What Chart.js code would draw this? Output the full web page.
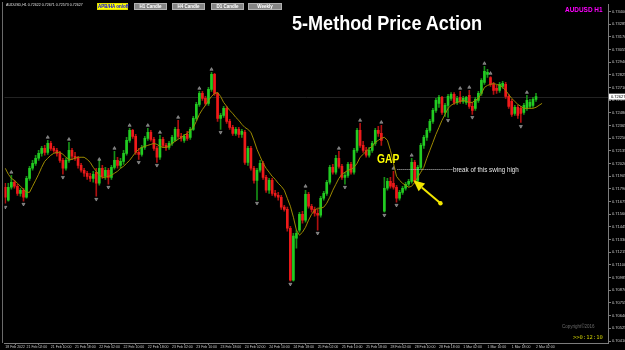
<!DOCTYPE html>
<html lang="en">
<head>
<meta charset="UTF-8">
<title>5-Method Price Action</title>
<script src="https://cdn.jsdelivr.net/npm/chart.js"></script>
<style>
  body { margin: 0; padding: 0; background: #000; font-family: 'Liberation Sans', Arial, sans-serif; }
  .wrap { position: relative; width: 625px; height: 350px; overflow: hidden; background: #000; }
  canvas { position: absolute; left: 0; top: 0; }
  .lbl { position: absolute; white-space: nowrap; line-height: 1; transform-origin: left top; }
  .btn { position: absolute; top: 3px; height: 7px; box-sizing: border-box; background: #858585; border: 1px solid #b0b0b0;
         color: #fff; font-weight: bold; font-size: 4.5px; line-height: 5px; text-align: center; white-space: nowrap; }
  .btn.on { background: #ffff00; border-color: #e0e000; color: #0000ee; }
  .title { left: 292px; top: 12px; font-size: 21px; font-weight: bold; color: #fff; transform: scaleX(0.86); }
  .sym { left: 565px; top: 6px; font-size: 7px; font-weight: bold; color: #ff00ff; transform: scaleX(0.92); }
  .info { left: 6px; top: 4px; font-size: 3.6px; color: #e0e0e0; }
  .gap { left: 377px; top: 153px; font-size: 12.5px; font-weight: bold; color: #ffff00; transform: scaleX(0.82); }
  .note { left: 453px; top: 165.5px; font-size: 7px; color: #e6e6e6; transform: scaleX(0.9); }
  .copy { left: 562px; top: 325px; font-size: 4.5px; color: #6a6a6a; }
  .timer { left: 573px; top: 335px; font-size: 5.5px; color: #c8c800; font-family: 'DejaVu Sans Mono', monospace; }
</style>
</head>
<body>
<div class="wrap">
  <canvas id="priceChart" width="625" height="350"></canvas>
  <div class="lbl info">AUDUSD,H1 0.72622 0.72671 0.72573 0.72627</div>
  <div class="btn on" style="left:97px;width:31px;">APB/HA on/off</div>
  <div class="btn" style="left:134px;width:33px;">H1 Candle</div>
  <div class="btn" style="left:172px;width:33px;">H4 Candle</div>
  <div class="btn" style="left:211px;width:33px;">D1 Candle</div>
  <div class="btn" style="left:248px;width:34px;">Weekly</div>
  <div class="lbl title">5-Method Price Action</div>
  <div class="lbl sym">AUDUSD H1</div>
  <div class="lbl gap">GAP</div>
  <div class="lbl note">break of this swing high</div>
  <div class="lbl copy">Copyright©2016</div>
  <div class="lbl timer">&gt;&gt;0:12:10</div>
</div>

<script>
// AUDUSD H1 candles, 18 Feb 2022 19:00 .. 2 Mar 2022 02:00
const opens = [
  0.71805, 0.71687, 0.71805, 0.71850, 0.71814, 0.71750, 0.71778, 0.71714, 0.71886, 0.71977,
  0.72022, 0.72068, 0.72113, 0.72158, 0.72122, 0.72203, 0.72158, 0.72140, 0.72113, 0.72049,
  0.71977, 0.72049, 0.72140, 0.72086, 0.72068, 0.72004, 0.71959, 0.71932, 0.71904, 0.71886,
  0.71941, 0.71841, 0.71977, 0.71904, 0.71959, 0.71895, 0.71986, 0.72049, 0.72004, 0.72040,
  0.72113, 0.72231, 0.72321, 0.72267, 0.72122, 0.72104, 0.72167, 0.72249, 0.72303, 0.72240,
  0.72158, 0.72077, 0.72240, 0.72185, 0.72167, 0.72203, 0.72231, 0.72330, 0.72267, 0.72231,
  0.72285, 0.72258, 0.72330, 0.72430, 0.72557, 0.72656, 0.72611, 0.72566, 0.72693, 0.72829,
  0.72656, 0.72430, 0.72457, 0.72521, 0.72403, 0.72348, 0.72294, 0.72330, 0.72285, 0.72303,
  0.72031, 0.72158, 0.71977, 0.71868, 0.71959, 0.72022, 0.71895, 0.71778, 0.71868, 0.71750,
  0.71732, 0.71714, 0.71624, 0.71605, 0.71433, 0.70962, 0.71343, 0.71415, 0.71560, 0.71506,
  0.71741, 0.71633, 0.71605, 0.71569, 0.71551, 0.71705, 0.71750, 0.71850, 0.71986, 0.71941,
  0.72068, 0.71995, 0.71895, 0.71913, 0.72013, 0.71941, 0.72140, 0.72321, 0.72185, 0.72140,
  0.72095, 0.72140, 0.72203, 0.72321, 0.72294, 0.71587, 0.71796, 0.71859, 0.71841, 0.71805,
  0.71705, 0.71759, 0.71796, 0.71832, 0.71859, 0.72031, 0.71868, 0.71986, 0.72185, 0.72258,
  0.72321, 0.72403, 0.72502, 0.72566, 0.72620, 0.72484, 0.72548, 0.72611, 0.72647, 0.72575,
  0.72620, 0.72584, 0.72575, 0.72638, 0.72539, 0.72521, 0.72593, 0.72656, 0.72756, 0.72829,
  0.72801, 0.72738, 0.72702, 0.72684, 0.72720, 0.72738, 0.72629, 0.72584, 0.72475, 0.72530,
  0.72521, 0.72484, 0.72521, 0.72539, 0.72548, 0.72602
];
const highs = [
  0.71841, 0.71841, 0.71913, 0.71868, 0.71832, 0.71796, 0.71796, 0.71904, 0.71995, 0.72049,
  0.72095, 0.72140, 0.72176, 0.72185, 0.72231, 0.72222, 0.72176, 0.72158, 0.72131, 0.72068,
  0.72068, 0.72212, 0.72158, 0.72122, 0.72086, 0.72022, 0.71977, 0.71950, 0.71932, 0.71950,
  0.71977, 0.72049, 0.72004, 0.71986, 0.71977, 0.72004, 0.72131, 0.72077, 0.72068, 0.72140,
  0.72258, 0.72339, 0.72330, 0.72285, 0.72158, 0.72185, 0.72267, 0.72339, 0.72321, 0.72258,
  0.72176, 0.72276, 0.72258, 0.72203, 0.72222, 0.72276, 0.72348, 0.72412, 0.72294, 0.72285,
  0.72312, 0.72348, 0.72448, 0.72575, 0.72675, 0.72675, 0.72629, 0.72711, 0.72847, 0.72838,
  0.72665, 0.72475, 0.72539, 0.72539, 0.72421, 0.72366, 0.72348, 0.72348, 0.72330, 0.72321,
  0.72176, 0.72176, 0.71995, 0.71977, 0.72049, 0.72040, 0.71913, 0.71886, 0.71886, 0.71778,
  0.71759, 0.71732, 0.71642, 0.71624, 0.71451, 0.71388, 0.71415, 0.71578, 0.71587, 0.71778,
  0.71759, 0.71651, 0.71624, 0.71605, 0.71723, 0.71769, 0.71868, 0.72004, 0.72013, 0.72095,
  0.72131, 0.72013, 0.71941, 0.72031, 0.72031, 0.72158, 0.72339, 0.72385, 0.72222, 0.72167,
  0.72167, 0.72222, 0.72339, 0.72357, 0.72366, 0.71895, 0.71886, 0.71895, 0.71950, 0.71823,
  0.71778, 0.71814, 0.71850, 0.71877, 0.72068, 0.72049, 0.72004, 0.72203, 0.72276, 0.72339,
  0.72421, 0.72521, 0.72611, 0.72638, 0.72629, 0.72566, 0.72647, 0.72665, 0.72665, 0.72629,
  0.72675, 0.72629, 0.72629, 0.72684, 0.72575, 0.72620, 0.72675, 0.72792, 0.72901, 0.72874,
  0.72810, 0.72756, 0.72729, 0.72756, 0.72765, 0.72756, 0.72647, 0.72602, 0.72548, 0.72548,
  0.72539, 0.72566, 0.72638, 0.72602, 0.72620, 0.72656
];
const lows = [
  0.71660, 0.71678, 0.71787, 0.71796, 0.71732, 0.71723, 0.71678, 0.71705, 0.71868, 0.71959,
  0.72004, 0.72049, 0.72086, 0.72095, 0.72104, 0.72140, 0.72122, 0.72086, 0.72031, 0.71923,
  0.71959, 0.72031, 0.72058, 0.72049, 0.71977, 0.71941, 0.71904, 0.71877, 0.71859, 0.71850,
  0.71723, 0.71823, 0.71886, 0.71877, 0.71832, 0.71877, 0.71968, 0.71977, 0.71977, 0.72013,
  0.72095, 0.72212, 0.72249, 0.72104, 0.72058, 0.72086, 0.72149, 0.72231, 0.72222, 0.72140,
  0.72031, 0.72058, 0.72167, 0.72140, 0.72149, 0.72185, 0.72222, 0.72249, 0.72222, 0.72212,
  0.72231, 0.72240, 0.72321, 0.72412, 0.72539, 0.72593, 0.72548, 0.72548, 0.72675, 0.72638,
  0.72403, 0.72330, 0.72439, 0.72385, 0.72330, 0.72276, 0.72276, 0.72258, 0.72258, 0.72013,
  0.72004, 0.71959, 0.71841, 0.71687, 0.71941, 0.71877, 0.71759, 0.71750, 0.71732, 0.71714,
  0.71687, 0.71605, 0.71587, 0.71406, 0.70953, 0.70953, 0.71252, 0.71397, 0.71479, 0.71488,
  0.71615, 0.71578, 0.71542, 0.71415, 0.71533, 0.71687, 0.71732, 0.71832, 0.71923, 0.71923,
  0.71977, 0.71877, 0.71832, 0.71895, 0.71923, 0.71923, 0.72122, 0.72167, 0.72122, 0.72077,
  0.72077, 0.72122, 0.72185, 0.72267, 0.72185, 0.71578, 0.71778, 0.71796, 0.71787, 0.71669,
  0.71687, 0.71741, 0.71778, 0.71814, 0.71841, 0.71841, 0.71850, 0.71968, 0.72158, 0.72231,
  0.72303, 0.72385, 0.72484, 0.72530, 0.72466, 0.72448, 0.72439, 0.72593, 0.72557, 0.72557,
  0.72566, 0.72566, 0.72557, 0.72521, 0.72466, 0.72502, 0.72575, 0.72638, 0.72738, 0.72801,
  0.72720, 0.72647, 0.72656, 0.72665, 0.72702, 0.72611, 0.72521, 0.72448, 0.72457, 0.72430,
  0.72394, 0.72466, 0.72502, 0.72521, 0.72530, 0.72584
];
const closes = [
  0.71714, 0.71805, 0.71850, 0.71814, 0.71750, 0.71778, 0.71714, 0.71886, 0.71977, 0.72022,
  0.72068, 0.72113, 0.72158, 0.72122, 0.72203, 0.72158, 0.72140, 0.72113, 0.72049, 0.71977,
  0.72049, 0.72140, 0.72086, 0.72068, 0.72004, 0.71959, 0.71932, 0.71904, 0.71886, 0.71923,
  0.71841, 0.71977, 0.71904, 0.71959, 0.71895, 0.71986, 0.72049, 0.72004, 0.72040, 0.72113,
  0.72231, 0.72321, 0.72267, 0.72122, 0.72104, 0.72167, 0.72249, 0.72303, 0.72240, 0.72158,
  0.72077, 0.72240, 0.72185, 0.72167, 0.72203, 0.72258, 0.72330, 0.72267, 0.72249, 0.72267,
  0.72249, 0.72330, 0.72430, 0.72557, 0.72656, 0.72611, 0.72566, 0.72693, 0.72829, 0.72656,
  0.72430, 0.72457, 0.72521, 0.72403, 0.72348, 0.72294, 0.72330, 0.72285, 0.72312, 0.72031,
  0.72158, 0.71977, 0.71868, 0.71959, 0.72022, 0.71895, 0.71778, 0.71868, 0.71750, 0.71732,
  0.71714, 0.71624, 0.71605, 0.71433, 0.70962, 0.71361, 0.71388, 0.71560, 0.71506, 0.71741,
  0.71633, 0.71605, 0.71569, 0.71551, 0.71705, 0.71750, 0.71850, 0.71986, 0.71941, 0.72068,
  0.71995, 0.71895, 0.71913, 0.72013, 0.71941, 0.72140, 0.72321, 0.72185, 0.72140, 0.72095,
  0.72140, 0.72203, 0.72321, 0.72294, 0.72231, 0.71796, 0.71859, 0.71814, 0.71805, 0.71705,
  0.71759, 0.71796, 0.71832, 0.71859, 0.72031, 0.71859, 0.71986, 0.72185, 0.72258, 0.72321,
  0.72403, 0.72502, 0.72593, 0.72620, 0.72484, 0.72548, 0.72629, 0.72647, 0.72575, 0.72611,
  0.72584, 0.72611, 0.72620, 0.72539, 0.72502, 0.72602, 0.72656, 0.72774, 0.72856, 0.72847,
  0.72738, 0.72684, 0.72684, 0.72738, 0.72747, 0.72629, 0.72539, 0.72466, 0.72530, 0.72457,
  0.72475, 0.72548, 0.72593, 0.72575, 0.72602, 0.72627
];

// moving average as drawn (runs 2 bars past the last candle)
const maLine = [
  0.71977, 0.71923, 0.71886, 0.71868, 0.71841, 0.71814, 0.71787, 0.71759, 0.71759, 0.71814,
  0.71868, 0.71923, 0.71986, 0.72040, 0.72068, 0.72095, 0.72113, 0.72122, 0.72122, 0.72104,
  0.72077, 0.72058, 0.72058, 0.72068, 0.72077, 0.72077, 0.72077, 0.72058, 0.72031, 0.71986,
  0.71950, 0.71913, 0.71895, 0.71895, 0.71904, 0.71913, 0.71932, 0.71950, 0.71977, 0.71995,
  0.72022, 0.72049, 0.72086, 0.72122, 0.72149, 0.72167, 0.72176, 0.72185, 0.72194, 0.72203,
  0.72194, 0.72176, 0.72167, 0.72167, 0.72176, 0.72203, 0.72222, 0.72240, 0.72258, 0.72276,
  0.72294, 0.72321, 0.72348, 0.72403, 0.72466, 0.72511, 0.72548, 0.72593, 0.72629, 0.72656,
  0.72665, 0.72629, 0.72575, 0.72539, 0.72502, 0.72475, 0.72439, 0.72412, 0.72376, 0.72348,
  0.72330, 0.72303, 0.72231, 0.72149, 0.72086, 0.72022, 0.71977, 0.71941, 0.71904, 0.71877,
  0.71841, 0.71814, 0.71778, 0.71705, 0.71633, 0.71533, 0.71415, 0.71370, 0.71397, 0.71442,
  0.71506, 0.71560, 0.71596, 0.71615, 0.71615, 0.71624, 0.71660, 0.71714, 0.71778, 0.71832,
  0.71886, 0.71923, 0.71941, 0.71959, 0.71968, 0.71986, 0.72022, 0.72077, 0.72104, 0.72131,
  0.72158, 0.72176, 0.72212, 0.72231, 0.72249, 0.72258, 0.72231, 0.72140, 0.72022, 0.71904,
  0.71868, 0.71841, 0.71823, 0.71805, 0.71814, 0.71850, 0.71895, 0.71941, 0.71986, 0.72068,
  0.72140, 0.72212, 0.72285, 0.72348, 0.72412, 0.72466, 0.72521, 0.72548, 0.72566, 0.72575,
  0.72584, 0.72593, 0.72584, 0.72575, 0.72575, 0.72593, 0.72611, 0.72656, 0.72711, 0.72729,
  0.72738, 0.72747, 0.72738, 0.72729, 0.72711, 0.72684, 0.72647, 0.72611, 0.72584, 0.72557,
  0.72539, 0.72521, 0.72521, 0.72521, 0.72521, 0.72530, 0.72548, 0.72566
];

// fractal marks (bar index, price where the arrow sits)
const fracUpIdx = [2, 14, 21, 31, 36, 41, 47, 51, 57, 64, 68, 99, 110, 117, 124, 128, 134, 150, 153, 158, 160, 172];
const fracUpVal = [0.71941, 0.72258, 0.72240, 0.72058, 0.72158, 0.72366, 0.72366, 0.72303, 0.72439, 0.72702, 0.72874,
  0.71814, 0.72158, 0.72412, 0.72394, 0.71977, 0.72095, 0.72702, 0.72711, 0.72928, 0.72838, 0.72665];
const fracDownIdx = [0, 6, 19, 30, 34, 44, 50, 71, 83, 94, 103, 112, 125, 129, 146, 154, 170];
const fracDownVal = [0.71624, 0.71651, 0.71895, 0.71696, 0.71805, 0.72031, 0.72004, 0.72303, 0.71660, 0.70926,
  0.71388, 0.71805, 0.71551, 0.71642, 0.72412, 0.72439, 0.72357];

// axis ticks
const timeTickIdx = [0, 7, 15, 23, 31, 39, 47, 55, 63, 71, 79, 87, 95, 103, 111, 119, 127, 135, 143, 151, 159, 167, 175];
const timeTickLabels = ['18 Feb 2022', '21 Feb 02:00', '21 Feb 10:00', '21 Feb 18:00', '22 Feb 02:00', '22 Feb 10:00',
  '22 Feb 18:00', '23 Feb 02:00', '23 Feb 10:00', '23 Feb 18:00', '24 Feb 02:00', '24 Feb 10:00', '24 Feb 18:00',
  '25 Feb 02:00', '25 Feb 10:00', '25 Feb 18:00', '28 Feb 02:00', '28 Feb 10:00', '28 Feb 18:00', '1 Mar 02:00',
  '1 Mar 10:00', '1 Mar 18:00', '2 Mar 02:00'];
const priceTicks = [0.70410, 0.70525, 0.70640, 0.70755, 0.70870, 0.70985, 0.71100, 0.71215, 0.71330, 0.71445,
  0.71560, 0.71675, 0.71790, 0.71905, 0.72020, 0.72135, 0.72250, 0.72365, 0.72480, 0.72595, 0.72710, 0.72825,
  0.72940, 0.73055, 0.73170, 0.73285, 0.73400];

const UP = '#22cc22', DOWN = '#ee1a1a';
const UP_WICK = '#169016', DOWN_WICK = '#b01010';
const AXIS = '#7c7c7c';

const bodies = opens.map((o, i) => ({ x: i, y: [o, closes[i]] }));
const wicks = opens.map((o, i) => ({ x: i, y: [lows[i], highs[i]] }));
const bull = opens.map((o, i) => closes[i] >= o);

// extra drawing: bid line, frame, swing-high line, arrow, price box
const overlay = {
    id: 'overlay',
    beforeDatasetsDraw(chart) {
        const { ctx, chartArea: a, scales: { y } } = chart;
        ctx.save();
        const py = Math.round(y.getPixelForValue(closes[closes.length - 1])) + 0.5;
        ctx.strokeStyle = '#222222';
        ctx.lineWidth = 1;
        ctx.beginPath(); ctx.moveTo(a.left, py); ctx.lineTo(a.right, py); ctx.stroke();
        ctx.strokeStyle = '#6a6a6a';
        ctx.beginPath(); ctx.moveTo(2.5, 2); ctx.lineTo(2.5, a.bottom); ctx.stroke();
        ctx.restore();
    },
    afterDraw(chart) {
        const { ctx, chartArea: a, scales: { x, y } } = chart;
        ctx.save();

        // break of swing high, dotted
        const sy = Math.round(y.getPixelForValue(0.71968)) + 0.5;
        ctx.strokeStyle = '#c4c4c4';
        ctx.lineWidth = 1;
        ctx.setLineDash([1, 1]);
        ctx.beginPath();
        ctx.moveTo(x.getPixelForValue(129.3), sy);
        ctx.lineTo(x.getPixelForValue(147.4), sy);
        ctx.stroke();
        ctx.setLineDash([]);

        // yellow arrow
        const tx = x.getPixelForValue(143.5), ty = y.getPixelForValue(0.71660);
        const hx = x.getPixelForValue(134.6), hy = y.getPixelForValue(0.71868);
        const ang = Math.atan2(hy - ty, hx - tx);
        const len = 11, half = 5;
        const bx = hx - len * Math.cos(ang), by = hy - len * Math.sin(ang);
        ctx.strokeStyle = '#f2e600';
        ctx.fillStyle = '#f2e600';
        ctx.lineWidth = 2;
        ctx.beginPath(); ctx.moveTo(tx, ty); ctx.lineTo(bx, by); ctx.stroke();
        ctx.beginPath();
        ctx.moveTo(hx, hy);
        ctx.lineTo(bx + half * Math.sin(ang), by - half * Math.cos(ang));
        ctx.lineTo(bx - half * Math.sin(ang), by + half * Math.cos(ang));
        ctx.closePath();
        ctx.fill();
        ctx.beginPath(); ctx.arc(tx, ty, 2.2, 0, Math.PI * 2); ctx.fill();

        // current price box on the axis
        const last = closes[closes.length - 1];
        const py = y.getPixelForValue(last);
        ctx.fillStyle = '#ffffff';
        ctx.fillRect(a.right + 1, py - 3, 625 - a.right - 1, 6);
        ctx.fillStyle = '#000000';
        ctx.font = '4px "Liberation Sans", Arial, sans-serif';
        ctx.textBaseline = 'middle';
        ctx.fillText(last.toFixed(5), a.right + 3, py + 0.3);
        ctx.restore();
    }
};

new Chart(document.getElementById('priceChart'), {
    type: 'bar',
    data: {
        datasets: [
            {
                type: 'line', label: 'MA', data: maLine.map((v, i) => ({ x: i, y: v })),
                borderColor: '#9c8a00', borderWidth: 1, pointRadius: 0, tension: 0, order: 0
            },
            {
                type: 'line', label: 'Fractal up', data: fracUpIdx.map((v, i) => ({ x: v, y: fracUpVal[i] })),
                showLine: false, pointStyle: 'triangle', pointRadius: 1.8, borderWidth: 0.5,
                borderColor: '#bdbdbd', backgroundColor: '#6e6e6e', order: 1
            },
            {
                type: 'line', label: 'Fractal down', data: fracDownIdx.map((v, i) => ({ x: v, y: fracDownVal[i] })),
                showLine: false, pointStyle: 'triangle', rotation: 180, pointRadius: 1.8, borderWidth: 0.5,
                borderColor: '#bdbdbd', backgroundColor: '#6e6e6e', order: 1
            },
            {
                label: 'Body', data: bodies, grouped: false, barThickness: 2, minBarLength: 1,
                backgroundColor: bull.map(b => b ? UP : DOWN), borderWidth: 0, order: 2
            },
            {
                label: 'Wick', data: wicks, grouped: false, barThickness: 1,
                backgroundColor: bull.map(b => b ? UP_WICK : DOWN_WICK), borderWidth: 0, order: 3
            }
        ]
    },
    options: {
        responsive: false,
        animation: false,
        events: [],
        layout: { padding: { left: 3, top: 4, right: 0, bottom: 0 } },
        plugins: { legend: { display: false }, tooltip: { enabled: false } },
        scales: {
            x: {
                type: 'linear', min: -0.26, max: 198.74, offset: false,
                afterBuildTicks: s => { s.ticks = timeTickIdx.map(v => ({ value: v })); },
                afterFit: s => { s.height = 7; },
                ticks: {
                    autoSkip: false, maxRotation: 0, align: 'start', padding: 0,
                    color: '#c8c8c8', font: { family: 'Liberation Sans', size: 3.5 },
                    callback: (v, i) => timeTickLabels[i]
                },
                grid: { drawOnChartArea: false, tickLength: 2, color: AXIS },
                border: { color: AXIS }
            },
            y: {
                position: 'right', min: 0.70392, max: 0.73463,
                afterBuildTicks: s => { s.ticks = priceTicks.map(v => ({ value: v })); },
                afterFit: s => { s.width = 17; },
                ticks: {
                    padding: 1, color: '#c8c8c8', font: { family: 'Liberation Sans', size: 4 },
                    callback: v => v.toFixed(5)
                },
                grid: { drawOnChartArea: false, tickLength: 3, color: AXIS },
                border: { color: AXIS }
            }
        }
    },
    plugins: [overlay]
});
</script>
</body>
</html>
